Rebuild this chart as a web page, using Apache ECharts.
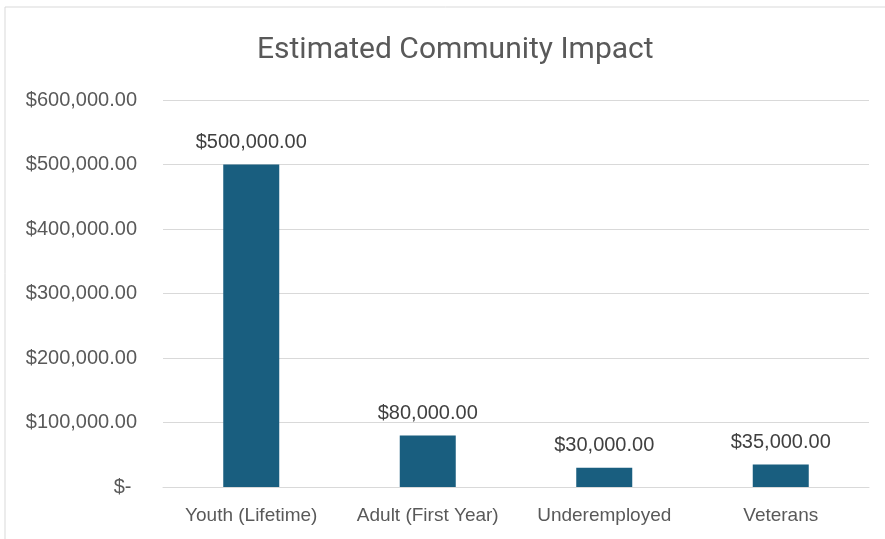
<!DOCTYPE html>
<html><head><meta charset="utf-8">
<script src="https://cdn.jsdelivr.net/npm/echarts@6/dist/echarts.min.js"></script>
<style>html,body{margin:0;padding:0;background:#fff}#c{width:885px;height:539px}</style>
</head><body><div id="c"></div>
<script>
const categories = ["Youth (Lifetime)", "Adult (First Year)", "Underemployed", "Veterans"];
const values = [500000, 80000, 30000, 35000];
const yTicks = [0, 100000, 200000, 300000, 400000, 500000, 600000];

function money(v) {
  if (v === 0) return "$- ";
  return "$" + v.toLocaleString("en-US", {minimumFractionDigits: 2, maximumFractionDigits: 2});
}

const chart = echarts.init(document.getElementById('c'));
chart.setOption({
  animation: false,
  textStyle: {fontFamily: "Liberation Sans"},
  graphic: [{
    type: 'rect', shape: {x: 5, y: 7, width: 900, height: 560},
    style: {fill: 'none', stroke: '#d9d9d9', lineWidth: 1}, silent: true
  }],
  title: {
    text: "Estimated Community Impact",
    left: 252, top: 30,
    textStyle: {fontFamily: "Roboto", fontWeight: 'normal', fontSize: 30, color: '#595959'}
  },
  grid: {left: 163, right: 16, top: 100, bottom: 52, containLabel: false},
  xAxis: {
    type: 'category', data: categories,
    axisLine: {lineStyle: {color: '#d9d9d9', width: 1}},
    axisTick: {show: false},
    axisLabel: {color: '#595959', fontSize: 19, margin: 19, interval: 0, hideOverlap: false, fontFamily: "Liberation Sans"}
  },
  yAxis: {
    type: 'value', min: yTicks[0], max: yTicks[yTicks.length - 1], interval: yTicks[1] - yTicks[0],
    axisLine: {show: false}, axisTick: {show: false},
    splitLine: {lineStyle: {color: '#d9d9d9', width: 1}},
    axisLabel: {color: '#595959', fontSize: 20, margin: 26, formatter: money, fontFamily: "Liberation Sans"}
  },
  series: [{
    type: 'bar', data: values,
    barWidth: 56,
    itemStyle: {color: '#195E7F'},
    label: {
      show: true, position: 'top', distance: 12,
      color: '#404040', fontSize: 20, fontFamily: "Liberation Sans",
      formatter: p => money(p.value)
    }
  }]
});
</script>
</body></html>
